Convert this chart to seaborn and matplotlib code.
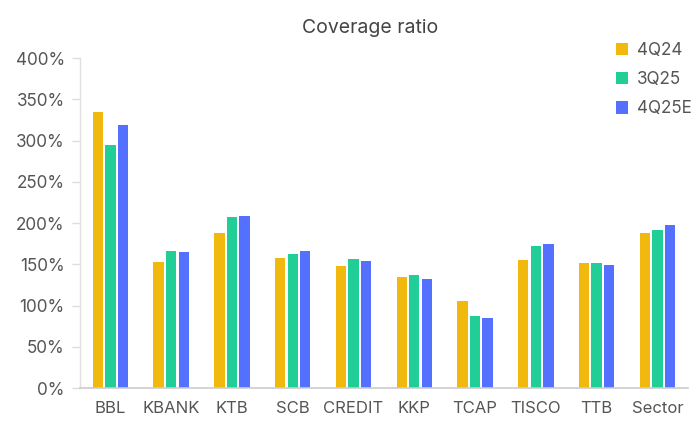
import matplotlib
matplotlib.use("Agg")
import matplotlib.pyplot as plt
import seaborn as sns
import pandas as pd
from matplotlib.ticker import FuncFormatter

categories = ["BBL", "KBANK", "KTB", "SCB", "CREDIT", "KKP", "TCAP", "TISCO", "TTB", "Sector"]
series_names = ["4Q24", "3Q25", "4Q25E"]
v_4q24 = [334, 153, 188, 158, 148, 134, 105, 155, 151, 188]
v_3q25 = [294, 166, 207, 162, 156, 137, 87, 172, 151, 191]
v_4q25e = [319, 165, 208, 166, 154, 132, 85, 174, 149, 197]
colors = ["#F1B80D", "#21CE98", "#5470FE"]
y_ticks = [0, 50, 100, 150, 200, 250, 300, 350, 400]

rows = []
for name, vals in zip(series_names, [v_4q24, v_3q25, v_4q25e]):
    for c, v in zip(categories, vals):
        rows.append({"bank": c, "series": name, "value": v})
df = pd.DataFrame(rows)

sns.set_theme(style="white")
plt.rcParams["font.family"] = ["Inter", "DejaVu Sans"]

fig = plt.figure(figsize=(6.99, 4.25), dpi=100)
ax = fig.add_axes([0.1144, 0.087, 0.8696, 0.7765])

sns.barplot(data=df, x="bank", y="value", hue="series", order=categories,
            hue_order=series_names, palette=colors, width=0.62, gap=0.18,
            saturation=1, ax=ax, legend=True, errorbar=None,
            edgecolor="none", linewidth=0)

ax.set_xlim(-0.5, 9.5)
ax.set_ylim(0, 400)
ax.set_yticks(y_ticks)
ax.yaxis.set_major_formatter(FuncFormatter(lambda v, p: f"{int(v)}%"))
ax.set_xlabel("")
ax.set_ylabel("")
ax.tick_params(axis="y", length=6, color="#dddddd", width=1, labelsize=12.3,
               labelcolor="#555555", pad=5, left=True)
ax.tick_params(axis="x", length=0, labelsize=12, labelcolor="#555555", pad=9)
for s in ["top", "right"]:
    ax.spines[s].set_visible(False)
ax.spines["left"].set_color("#e0e0e0")
ax.spines["left"].set_linewidth(1)
ax.spines["bottom"].set_color("#cccccc")
ax.spines["bottom"].set_linewidth(1.2)

leg = ax.legend(loc="upper left", bbox_to_anchor=(0.87, 1.07), frameon=False,
                fontsize=12.3, handlelength=0.75, handleheight=0.75,
                handletextpad=0.5, labelspacing=0.72, borderaxespad=0)
for t in leg.get_texts():
    t.set_color("#555555")

fig.text(370 / 699, 1 - 28 / 425, "Coverage ratio", ha="center", va="center",
         fontsize=14, color="#444444")

fig.savefig("out.png", dpi=100)
